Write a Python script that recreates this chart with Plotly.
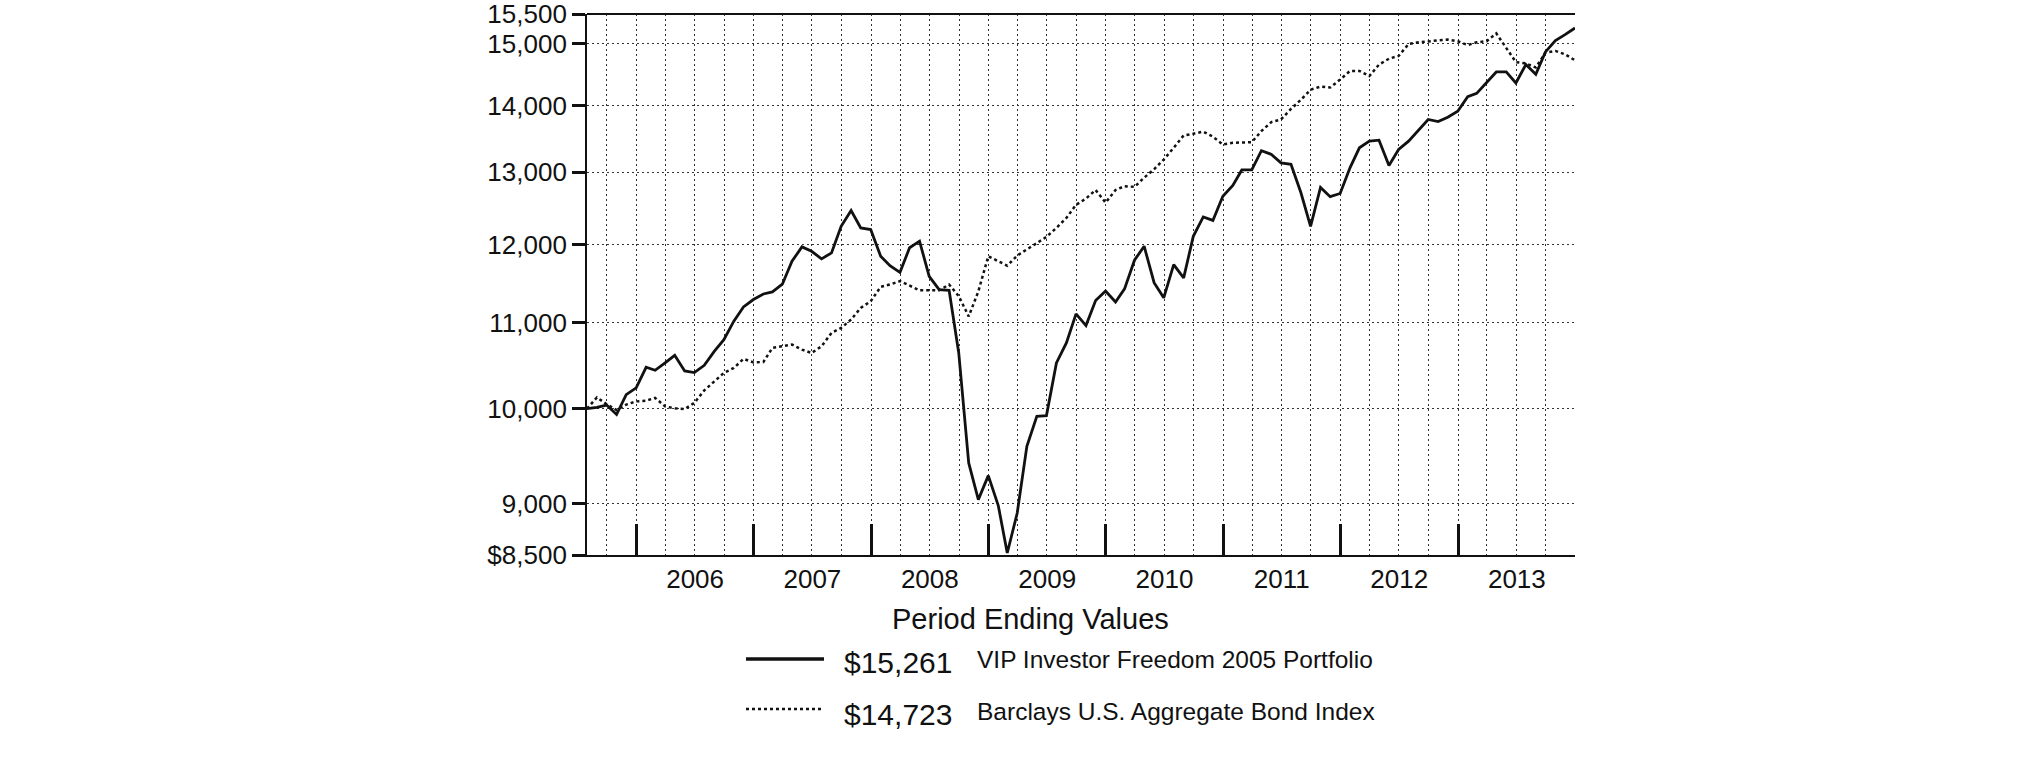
import numpy as np
import pandas as pd
import plotly.graph_objects as go

# ---------------- data ----------------
months = pd.date_range("2005-07-01", periods=102, freq="MS") + pd.offsets.MonthEnd(0)

fund_values = [
    10000, 10014, 10040, 9935, 10157, 10233, 10470, 10435, 10521, 10610,
    10428, 10408, 10493, 10657, 10797, 11020, 11196, 11288, 11358, 11385,
    11482, 11778, 11968, 11909, 11810, 11888, 12244, 12460, 12223, 12200,
    11844, 11721, 11634, 11956, 12044, 11583, 11413, 11405, 10638, 9415,
    9039, 9283, 8980, 8519, 8906, 9590, 9915, 9923, 10521, 10758,
    11110, 10966, 11275, 11396, 11258, 11423, 11792, 11977, 11501, 11310,
    11734, 11563, 12109, 12373, 12325, 12661, 12813, 13035, 13035, 13318,
    13263, 13139, 13117, 12709, 12244, 12785, 12654, 12699, 13070, 13360,
    13459, 13474, 13100, 13335, 13459, 13625, 13787, 13754, 13822, 13914,
    14140, 14193, 14357, 14534, 14534, 14357, 14653, 14495, 14861, 15048,
    15148, 15261,
]

index_values = [
    10000, 10125, 10050, 9985, 10045, 10081, 10089, 10120, 10026, 10003,
    9996, 10064, 10205, 10308, 10405, 10462, 10568, 10527, 10532, 10697,
    10717, 10737, 10677, 10638, 10717, 10878, 10938, 11040, 11184, 11267,
    11448, 11478, 11521, 11465, 11405, 11405, 11405, 11478, 11331, 11079,
    11391, 11844, 11778, 11721, 11853, 11934, 12020, 12101, 12223, 12358,
    12540, 12627, 12748, 12571, 12748, 12803, 12792, 12924, 13045, 13187,
    13360, 13545, 13570, 13602, 13526, 13408, 13434, 13443, 13443, 13611,
    13747, 13787, 13949, 14092, 14250, 14300, 14284, 14412, 14551, 14551,
    14468, 14653, 14750, 14794, 14991, 15021, 15032, 15048, 15066, 15038,
    14974, 15021, 15038, 15170, 14935, 14694, 14672, 14606, 14850, 14877,
    14822, 14723,
]

y_tick_values = [8500, 9000, 10000, 11000, 12000, 13000, 14000, 15000, 15500]
y_tick_labels = ["$8,500", "9,000", "10,000", "11,000", "12,000",
                 "13,000", "14,000", "15,000", "15,500"]

series_names = ["VIP Investor Freedom 2005 Portfolio",
                "Barclays U.S. Aggregate Bond Index"]
ending_labels = ["$15,261", "$14,723"]
chart_title = "Period Ending Values"

# ---------------- layout constants (page pixels) ----------------
W, H = 2025, 756
PL, PR, PT, PB = 587, 1575, 14, 555   # plot area in page pixels
FONT = "Liberation Sans, Arial, Helvetica, sans-serif"
INK = "#111111"
GRID = dict(showgrid=True, gridcolor="#333333", gridwidth=1, griddash="2px,3px")


def px_x(px):
    return (px - PL) / (PR - PL)


def px_y(py):
    return (PB - py) / (PB - PT)


fig = go.Figure()
fig.add_trace(go.Scatter(x=months, y=fund_values, mode="lines",
                         name=series_names[0],
                         line=dict(color=INK, width=2.8)))
fig.add_trace(go.Scatter(x=months, y=index_values, mode="lines",
                         name=series_names[1],
                         line=dict(color=INK, width=2.5, dash="3px,3px")))

fig.update_layout(
    width=W, height=H,
    margin=dict(l=PL, r=W - PR, t=PT, b=H - PB, pad=0, autoexpand=False),
    paper_bgcolor="white", plot_bgcolor="white",
    showlegend=False,
    font=dict(family=FONT, color=INK),
)

fig.update_xaxes(
    type="date", automargin=False,
    range=[months[0], months[-1]],
    tickmode="linear", tick0="2006-01-01", dtick="M12",
    ticklabelmode="period", tickformat="%Y",
    ticks="inside", ticklen=31, tickwidth=3, tickcolor=INK,
    tickfont=dict(size=26, family=FONT, color=INK),
    showline=True, linecolor=INK, linewidth=1.8,
    zeroline=False,
    minor=dict(tick0="2005-10-01", dtick="M3", ticks="", **GRID),
    **GRID,
)

fig.update_yaxes(
    type="log", automargin=False, ticklabeloverflow="allow",
    range=[np.log10(y_tick_values[0]), np.log10(y_tick_values[-1])],
    tickmode="array", tickvals=y_tick_values, ticktext=y_tick_labels,
    ticks="outside", ticklen=13, tickwidth=2.5, tickcolor=INK,
    tickfont=dict(size=26, family=FONT, color=INK),
    showline=True, linecolor=INK, linewidth=1.8,
    zeroline=False,
    **GRID,
)

# top frame line
fig.add_shape(type="line", xref="paper", yref="paper", x0=0, x1=1, y0=1, y1=1,
              line=dict(color=INK, width=1.8))

# title below chart
fig.add_annotation(text=chart_title, xref="paper", yref="paper",
                   x=px_x(1030), y=px_y(619), xanchor="center", yanchor="middle",
                   showarrow=False, font=dict(size=29, family=FONT, color=INK))

# legend rows
row_line_y = [659, 709]
row_val_y = [662, 714]
row_lab_y = [659, 711]
dashes = ["solid", "3px,3px"]
widths = [3.5, 2.4]
for i in range(2):
    fig.add_shape(type="line", xref="paper", yref="paper",
                  x0=px_x(746), x1=px_x(824), y0=px_y(row_line_y[i]), y1=px_y(row_line_y[i]),
                  line=dict(color=INK, width=widths[i], dash=dashes[i]))
    fig.add_annotation(text=ending_labels[i], xref="paper", yref="paper",
                       x=px_x(842), y=px_y(row_val_y[i]), xanchor="left", yanchor="middle",
                       showarrow=False, font=dict(size=30, family=FONT, color=INK))
    fig.add_annotation(text=series_names[i], xref="paper", yref="paper",
                       x=px_x(975), y=px_y(row_lab_y[i]), xanchor="left", yanchor="middle",
                       showarrow=False, font=dict(size=24.5, family=FONT, color=INK))

fig.write_html("out.html",
               config={"displayModeBar": False},
               post_script="document.body.style.margin='0px';"
                           "document.body.style.overflow='hidden';")
